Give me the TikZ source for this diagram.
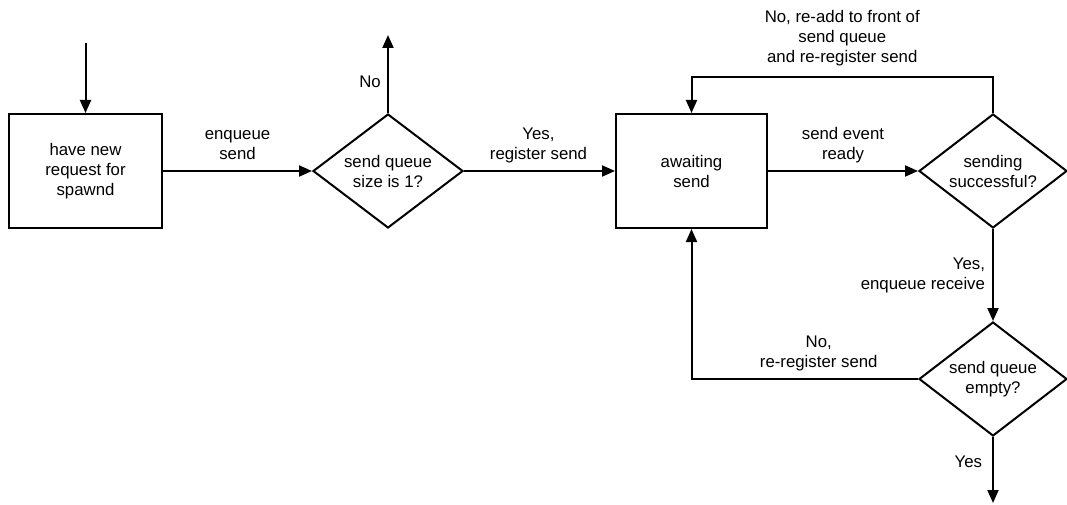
\documentclass[tikz,border=0pt]{standalone}
\usepackage{fontspec}
\setmainfont{Liberation Sans}
\usetikzlibrary{shapes.geometric,arrows.meta}
\begin{document}
\begin{tikzpicture}[x=1pt,y=-1pt,
  font=\fontsize{16.8}{20}\selectfont,
  every node/.style={inner sep=0pt},
  stepbox/.style={draw,line width=2pt,rectangle,minimum width=153pt,minimum height=114pt,align=center},
  decision/.style={draw,line width=2pt,diamond,shape aspect=1.3,minimum width=150pt,minimum height=114pt,align=center},
  arr/.style={line width=2pt,-{Triangle[length=13pt,width=11pt]}},
  lbl/.style={align=center,fill=none}]
\useasboundingbox (0,0) rectangle (1067,505);
\node[stepbox] (b1) at (85.5,171) {have new\\request for\\spawnd};
\node[decision] (d1) at (388,171) {send queue\\size is 1?};
\node[stepbox,minimum width=151pt] (b2) at (691.5,171) {awaiting\\send};
\node[decision,minimum width=148pt] (d2) at (993,171) {sending\\successful?};
\node[decision,minimum width=148pt] (d3) at (993,379) {send queue\\empty?};
\coordinate (s0) at (85.5,43);
\coordinate (e1) at (388,35);
\coordinate (e2) at (993,503);
\coordinate (top) at (0,77);
\draw[arr] (s0) -- (b1.north);
\draw[arr] (b1.east) -- node[lbl,yshift=26pt]{enqueue\\send} (d1.west);
\draw[arr] (d1.north) -- node[lbl,xshift=-18pt,pos=0.4]{No} (e1);
\draw[arr] (d1.east) -- node[lbl,yshift=26pt,xshift=-1pt]{Yes,\\register send} (b2.west);
\draw[arr] (b2.east) -- node[lbl,yshift=26pt]{send event\\ready} (d2.west);
\draw[arr] (d2.north) -- (d2.north |- top) -- node[lbl,above=10pt]{No, re-add to front of\\send queue\\and re-register send} (b2.north |- top) -- (b2.north);
\draw[arr] (d2.south) -- node[lbl,left=7pt,align=right]{Yes,\\enqueue receive} (d3.north);
\draw[arr] (d3.west) -- node[lbl,yshift=26pt,xshift=14pt,pos=0.5]{No,\\re-register send} (b2.south |- d3.west) -- (b2.south);
\draw[arr] (d3.south) -- node[lbl,left=10pt,pos=0.37]{Yes} (e2);
\end{tikzpicture}
\end{document}
